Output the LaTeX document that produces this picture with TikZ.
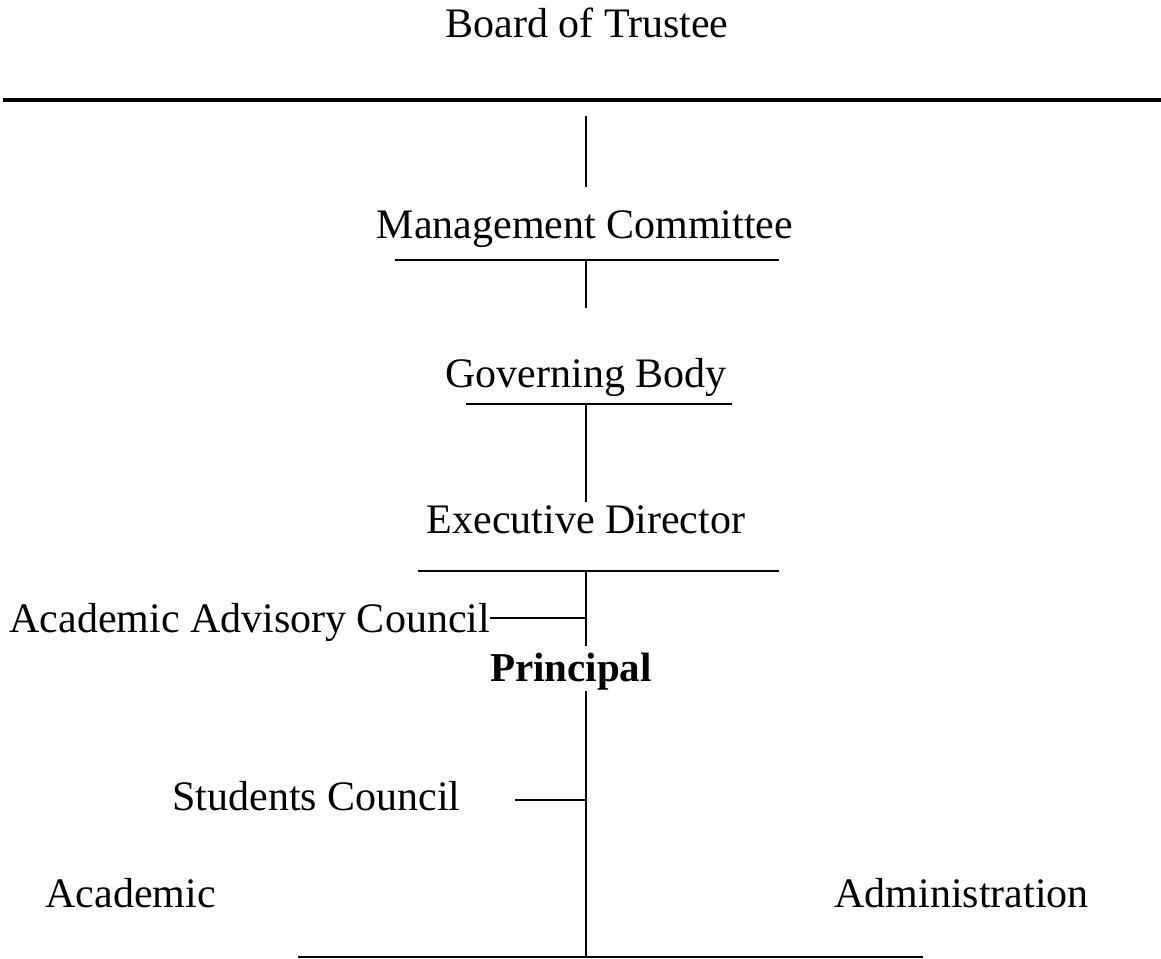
\documentclass[tikz,border=0pt]{standalone}
\usepackage{fontspec}
\setmainfont{Liberation Serif}
\usepackage{tikz}
\usetikzlibrary{positioning}

\begin{document}
\begin{tikzpicture}[x=0.5pt,y=-0.5pt,
						textnode/.style={inner sep=0pt, font=\fontsize{21}{25}\selectfont},
						boldnode/.style={inner sep=0pt, font=\fontsize{20.5}{25}\selectfont\bfseries},
						thinline/.style={line width=1pt},
						]
						\useasboundingbox (0,0) rectangle (1161,958);
						%Nodes
						\node[textnode, anchor=base]      (bot)   at (587,37)   {Board of Trustee};
						\node[textnode, anchor=base]      (mc)    at (585,238)  {Management Committee};
						\node[textnode, anchor=base]      (gb)    at (586,387)  {Governing Body};
						\node[textnode, anchor=base]      (ed)    at (586,533)  {Executive Director};
						\node[textnode, anchor=base west] (aac)   at (9,632)    {Academic Advisory Council};
						\node[boldnode, anchor=base]      (prin)  at (571,681)  {Principal};
						\node[textnode, anchor=base west] (sc)    at (172,810)  {Students Council};
						\node[textnode, anchor=base west] (acad)  at (45,907)   {Academic};
						\node[textnode, anchor=base west] (admin) at (834,907)  {Administration};

						%Lines
						\coordinate (barL) at (3,100);    \coordinate (barR) at (1161,100);
						\coordinate (v1a)  at (586,116);  \coordinate (v1b)  at (586,187);
						\coordinate (mcL)  at (395,260);  \coordinate (mcR)  at (779,260);
						\coordinate (mcC)  at (586,260);  \coordinate (v2b)  at (586,308);
						\coordinate (gbL)  at (466,404);  \coordinate (gbR)  at (732,404);
						\coordinate (gbC)  at (586,404);  \coordinate (v3b)  at (586,502);
						\coordinate (edL)  at (418,571);  \coordinate (edR)  at (779,571);
						\coordinate (edC)  at (586,571);  \coordinate (v4b)  at (586,646);
						\coordinate (aacR) at (586,618);
						\coordinate (v5a)  at (586,691);  \coordinate (v5b)  at (586,957);
						\coordinate (scL)  at (515,800);  \coordinate (scR)  at (586,800);
						\coordinate (btL)  at (298,957);  \coordinate (btR)  at (923,957);

						\draw[line width=2.3pt] (barL) -- (barR);
						\draw[thinline] (v1a) -- (v1b);
						\draw[thinline] (mcL) -- (mcR);
						\draw[thinline] (mcC) -- (v2b);
						\draw[thinline] (gbL) -- (gbR);
						\draw[thinline] (gbC) -- (v3b);
						\draw[thinline] (edL) -- (edR);
						\draw[thinline] (edC) -- (v4b);
						\draw[thinline] (aac.base east |- aacR) -- (aacR);
						\draw[thinline] (v5a) -- (v5b);
						\draw[thinline] (scL) -- (scR);
						\draw[thinline] (btL) -- (btR);
					\end{tikzpicture}
\end{document}
